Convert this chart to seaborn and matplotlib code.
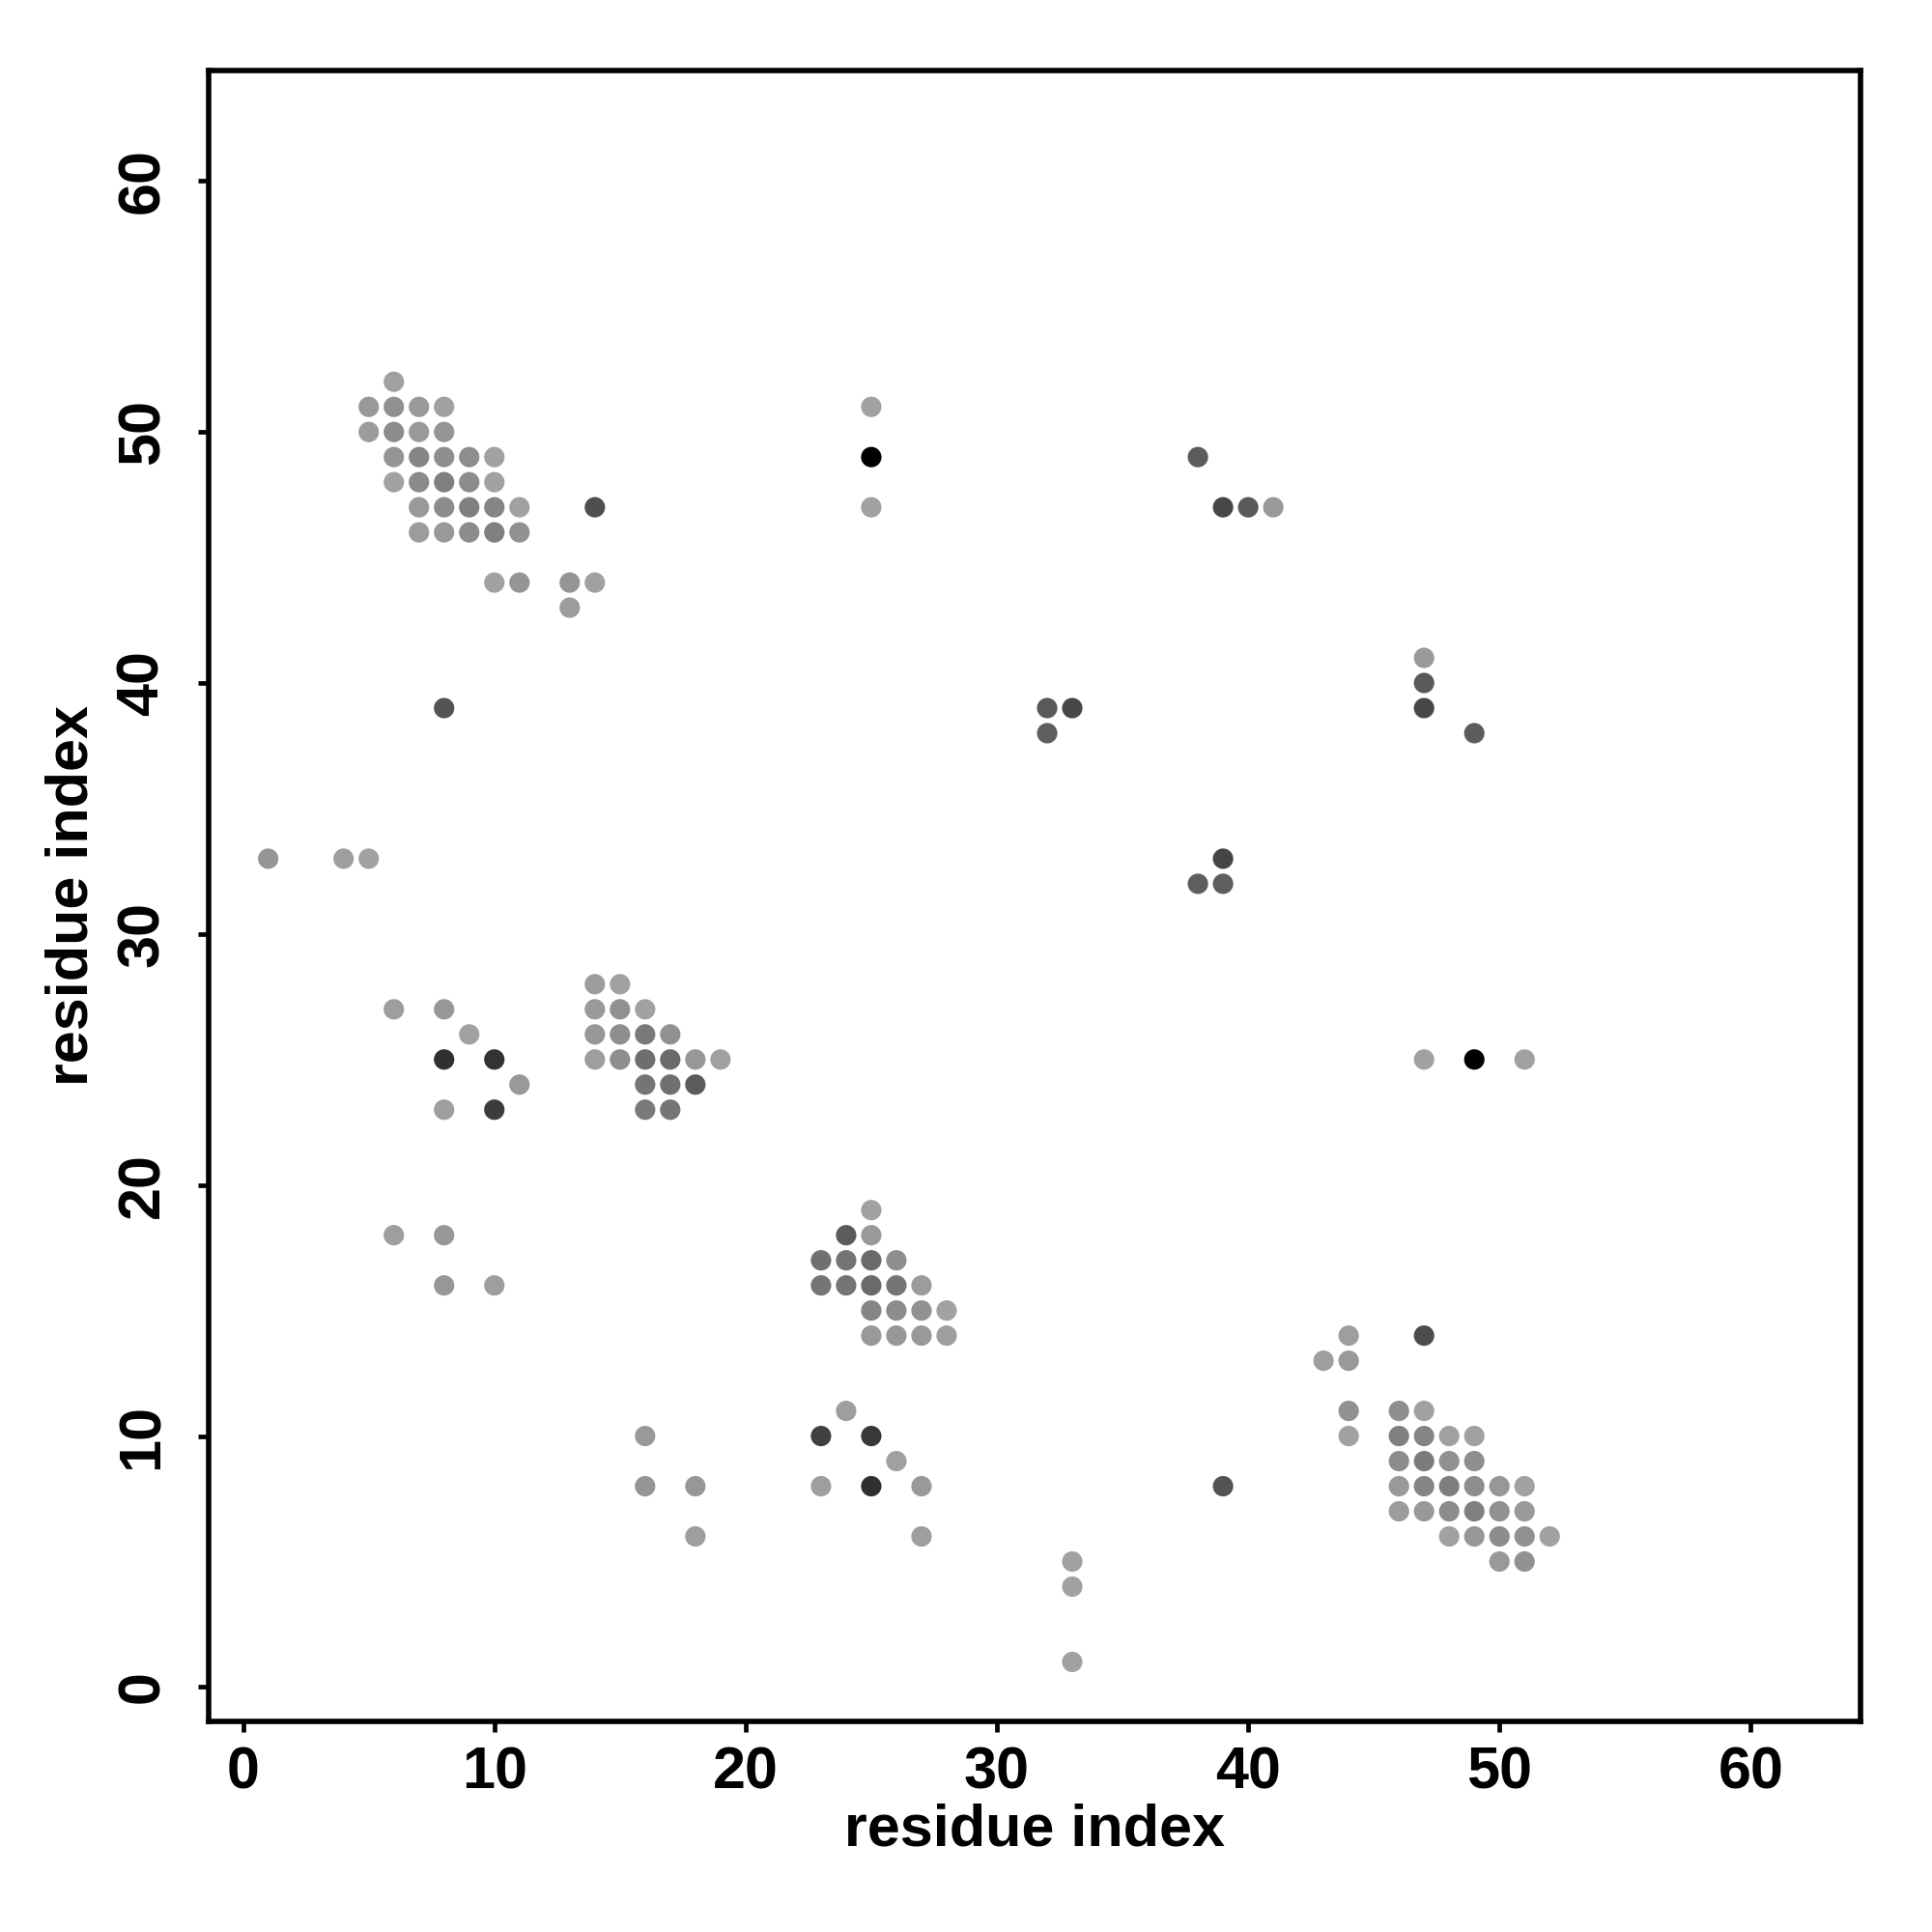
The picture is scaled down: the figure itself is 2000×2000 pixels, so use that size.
"""
Contact map: residue index vs residue index, grey = contact strength
"""

import matplotlib
matplotlib.use("Agg")
import matplotlib.pyplot as plt
import seaborn as sns
import pandas as pd

# residue pairs (i, j) and the grey level of each dot (0 = black, 1 = white)
RES_I = [6,
         5, 6, 7, 8,
         5, 6, 7, 8,
         6, 7, 8, 9, 10,
         6, 7, 8, 9, 10,
         7, 8, 9, 10, 11,
         7, 8, 9, 10, 11,
         14,
         10, 11, 13, 14,
         13,
         8,
         25, 25, 25,
         38, 39, 40, 41,
         47, 47, 47, 49,
         32, 33, 32,
         39, 38, 39,
         1, 4, 5,
         6, 8, 9, 8, 10, 11, 8, 10,
         14, 15,
         14, 15, 16,
         14, 15, 16, 17,
         14, 15, 16, 17, 18, 19,
         16, 17, 18,
         16, 17,
         47, 49, 51,
         6, 8, 8, 10,
         25,
         24, 25,
         23, 24, 25, 26,
         23, 24, 25, 26, 27,
         25, 26, 27, 28,
         25, 26, 27, 28,
         16, 16, 18, 18,
         24, 23, 25, 26, 23, 25, 27, 27,
         33, 33, 33,
         39,
         43, 44, 44, 47, 44, 44,
         46, 47,
         46, 47, 48, 49,
         46, 47, 48, 49,
         46, 47, 48, 49, 50, 51,
         46, 47, 48, 49, 50, 51,
         48, 49, 50, 51, 52,
         50, 51]
RES_J = [52,
         51, 51, 51, 51,
         50, 50, 50, 50,
         49, 49, 49, 49, 49,
         48, 48, 48, 48, 48,
         47, 47, 47, 47, 47,
         46, 46, 46, 46, 46,
         47,
         44, 44, 44, 44,
         43,
         39,
         51, 49, 47,
         49, 47, 47, 47,
         41, 40, 39, 38,
         39, 39, 38,
         33, 32, 32,
         33, 33, 33,
         27, 27, 26, 25, 25, 24, 23, 23,
         28, 28,
         27, 27, 27,
         26, 26, 26, 26,
         25, 25, 25, 25, 25, 25,
         24, 24, 24,
         23, 23,
         25, 25, 25,
         18, 18, 16, 16,
         19,
         18, 18,
         17, 17, 17, 17,
         16, 16, 16, 16, 16,
         15, 15, 15, 15,
         14, 14, 14, 14,
         10, 8, 8, 6,
         11, 10, 10, 9, 8, 8, 8, 6,
         5, 4, 1,
         8,
         13, 14, 13, 14, 11, 10,
         11, 11,
         10, 10, 10, 10,
         9, 9, 9, 9,
         8, 8, 8, 8, 8, 8,
         7, 7, 7, 7, 7, 7,
         6, 6, 6, 6, 6,
         5, 5]
SHADE = [.63,
         .60, .565, .60, .63,
         .61, .55, .60, .585,
         .585, .52, .555, .555, .63,
         .63, .54, .50, .55, .63,
         .60, .55, .50, .52, .63,
         .61, .60, .55, .50, .57,
         .31,
         .63, .585, .585, .63,
         .61,
         .33,
         .63, .0, .63,
         .36, .28, .35, .60,
         .60, .35, .28, .36,
         .35, .28, .37,
         .27, .37, .37,
         .585, .62, .63,
         .62, .59, .63, .19, .20, .60, .62, .235,
         .61, .63,
         .60, .57, .63,
         .59, .555, .48, .57,
         .62, .555, .43, .415, .59, .63,
         .46, .44, .36,
         .48, .46,
         .63, .0, .63,
         .62, .59, .59, .62,
         .63,
         .36, .60,
         .44, .455, .415, .555,
         .46, .46, .415, .46, .61,
         .52, .55, .57, .63,
         .60, .59, .60, .62,
         .60, .585, .59, .62,
         .62, .25, .22, .63, .62, .19, .60, .62,
         .63, .63, .63,
         .33,
         .62, .62, .60, .30, .57, .63,
         .555, .63,
         .50, .52, .63, .63,
         .55, .485, .57, .555,
         .60, .52, .495, .555, .59, .63,
         .61, .60, .55, .50, .57, .60,
         .63, .59, .55, .57, .63,
         .60, .57]

TICKS = [0, 10, 20, 30, 40, 50, 60]

sns.set_theme(style="white")
plt.rcParams["font.family"] = ["Liberation Sans", "DejaVu Sans"]
plt.rcParams["font.weight"] = "bold"
plt.rcParams["text.color"] = "black"
plt.rcParams["axes.labelcolor"] = "black"
plt.rcParams["xtick.color"] = "black"
plt.rcParams["ytick.color"] = "black"


def main():
    df = pd.DataFrame({"i": RES_I, "j": RES_J, "shade": SHADE})

    fig = plt.figure(figsize=(10, 10), dpi=200)
    ax = fig.add_axes([0.108, 0.109, 0.855, 0.8545])

    sns.scatterplot(data=df, x="i", y="j", hue="shade", palette="gray",
                    hue_norm=(0, 1), s=58, linewidth=0, legend=False, ax=ax)

    ax.set_xlim(-1.37, 64.37)
    ax.set_ylim(-1.37, 64.4)
    ax.set_xticks(TICKS)
    ax.set_yticks(TICKS)
    ax.set_xticklabels([str(t) for t in TICKS], fontsize=22, fontweight="bold")
    ax.set_yticklabels([str(t) for t in TICKS], fontsize=22, fontweight="bold",
                       rotation=90, va="center")
    ax.tick_params(axis="both", direction="out", length=4, width=1.7,
                   color="black", bottom=True, left=True, pad=5)
    ax.tick_params(axis="y", pad=10)

    for sp in ax.spines.values():
        sp.set_visible(True)
        sp.set_color("black")
        sp.set_linewidth(2.0)

    ax.set_xlabel("residue index", fontsize=22, fontweight="bold", labelpad=1)
    ax.set_ylabel("residue index", fontsize=22, fontweight="bold", labelpad=6)
    ax.grid(False)

    fig.savefig("out.png", dpi=200, facecolor="white")
    plt.close(fig)


if __name__ == "__main__":
    main()
